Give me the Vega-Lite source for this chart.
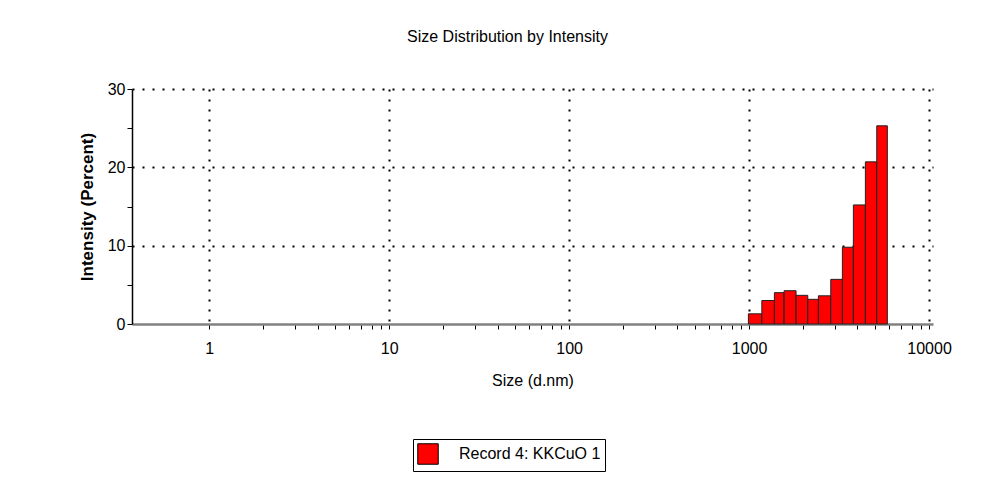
{
  "$schema": "https://vega.github.io/schema/vega-lite/v6.json",
  "width": 801,
  "height": 235,
  "autosize": {"type": "none"},
  "padding": {"left": 132, "top": 89, "right": 61, "bottom": 161},
  "background": "white",
  "title": {
    "text": "Size Distribution by Intensity",
    "font": "Liberation Sans",
    "fontSize": 16,
    "fontWeight": "normal",
    "color": "#000",
    "anchor": "middle",
    "frame": "group",
    "dx": -25,
    "offset": 36
  },
  "data": {
    "values": [
      {"lo": 991, "hi": 1177, "intensity": 1.3, "series": "Record 4: KKCuO 1"},
      {"lo": 1177, "hi": 1382, "intensity": 3.0, "series": "Record 4: KKCuO 1"},
      {"lo": 1382, "hi": 1565, "intensity": 4.0, "series": "Record 4: KKCuO 1"},
      {"lo": 1565, "hi": 1824, "intensity": 4.25, "series": "Record 4: KKCuO 1"},
      {"lo": 1824, "hi": 2119, "intensity": 3.66, "series": "Record 4: KKCuO 1"},
      {"lo": 2119, "hi": 2427, "intensity": 3.15, "series": "Record 4: KKCuO 1"},
      {"lo": 2427, "hi": 2844, "intensity": 3.6, "series": "Record 4: KKCuO 1"},
      {"lo": 2844, "hi": 3299, "intensity": 5.7, "series": "Record 4: KKCuO 1"},
      {"lo": 3299, "hi": 3798, "intensity": 9.8, "series": "Record 4: KKCuO 1"},
      {"lo": 3798, "hi": 4428, "intensity": 15.2, "series": "Record 4: KKCuO 1"},
      {"lo": 4428, "hi": 5122, "intensity": 20.7, "series": "Record 4: KKCuO 1"},
      {"lo": 5122, "hi": 5866, "intensity": 25.3, "series": "Record 4: KKCuO 1"}
    ]
  },
  "mark": {"type": "rect", "stroke": "#222", "strokeWidth": 1},
  "encoding": {
    "x": {
      "field": "lo",
      "type": "quantitative",
      "scale": {"type": "log", "domain": [0.372, 10520], "nice": false},
      "axis": {
        "title": "Size (d.nm)",
        "values": [1,2,3,4,5,6,7,8,9,10,20,30,40,50,60,70,80,90,100,200,300,400,500,600,700,800,900,1000,2000,3000,4000,5000,6000,7000,8000,9000,10000],
        "format": "d",
        "labelExpr": "indexof([1,10,100,1000,10000], datum.value) >= 0 ? datum.label : ''",
        "labelOverlap": false,
        "labelFlush": false,
        "labelFont": "Liberation Sans",
        "labelFontSize": 16,
        "labelColor": "#000",
        "labelPadding": 11,
        "titleFont": "Liberation Sans",
        "titleFontSize": 16,
        "titleFontWeight": "normal",
        "titleColor": "#000",
        "titlePadding": 16,
        "domainColor": "#808080",
        "domainWidth": 2.5,
        "tickColor": "#000",
        "tickSize": 5,
        "tickWidth": 1,
        "grid": true,
        "gridColor": "#000",
        "gridDash": [2, 8],
        "gridWidth": 2,
        "gridOpacity": {"condition": {"test": "indexof([1,10,100,1000,10000], datum.value) >= 0", "value": 1}, "value": 0}
      }
    },
    "x2": {"field": "hi"},
    "y": {
      "field": "intensity",
      "type": "quantitative",
      "scale": {"domain": [0, 30], "nice": false},
      "axis": {
        "title": "Intensity (Percent)",
        "values": [0, 5, 10, 15, 20, 25, 30],
        "labelExpr": "datum.value % 10 === 0 ? datum.label : ''",
        "labelFont": "Liberation Sans",
        "labelFontSize": 16,
        "labelColor": "#000",
        "labelPadding": 2,
        "titleFont": "Liberation Sans",
        "titleFontSize": 17,
        "titleFontWeight": "bold",
        "titleColor": "#000",
        "titlePadding": 11,
        "domainColor": "#000",
        "domainWidth": 1.5,
        "tickColor": "#000",
        "tickSize": 5,
        "grid": true,
        "gridColor": "#000",
        "gridDash": [2, 8],
        "gridWidth": 2,
        "gridOpacity": {"condition": {"test": "datum.value % 10 === 0 && datum.value > 0", "value": 1}, "value": 0}
      }
    },
    "y2": {"datum": 0},
    "fill": {
      "field": "series",
      "type": "nominal",
      "scale": {"range": ["#ff0000"]},
      "legend": {
        "title": null,
        "orient": "none",
        "legendX": 281,
        "legendY": 350,
        "symbolType": "square",
        "symbolSize": 420,
        "symbolStrokeColor": "#000",
        "symbolStrokeWidth": 1,
        "symbolOpacity": 1,
        "labelFont": "Liberation Sans",
        "labelFontSize": 16,
        "labelColor": "#000",
        "labelOffset": 20,
        "padding": 4,
        "strokeColor": "#000",
        "fillColor": "#fff"
      }
    }
  },
  "config": {"view": {"stroke": null}}
}
